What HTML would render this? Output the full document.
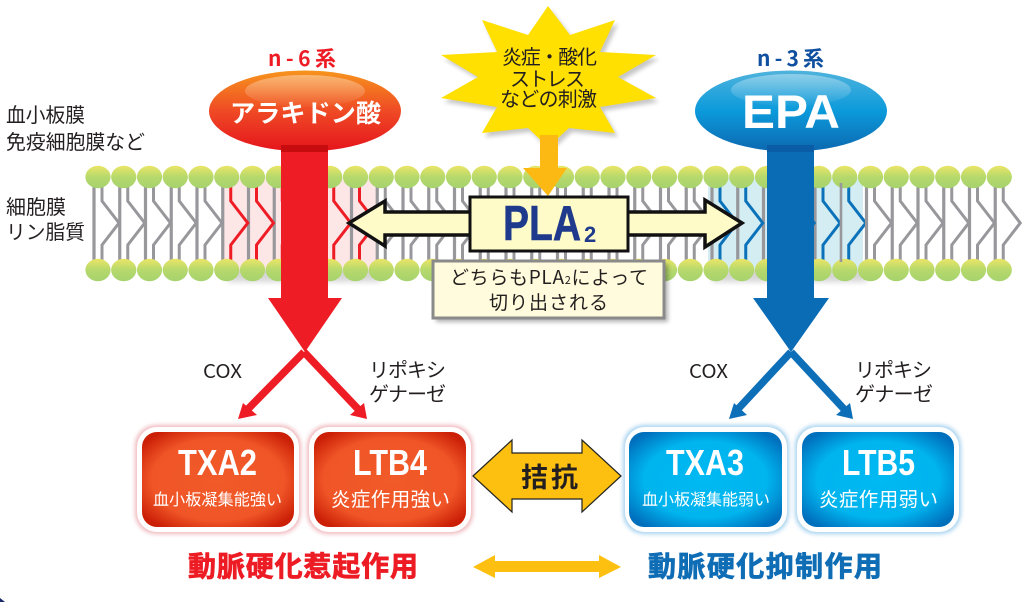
<!DOCTYPE html>
<html lang="ja"><head><meta charset="utf-8"><title>PLA2 diagram</title>
<style>html,body{margin:0;padding:0;background:#fff}svg{display:block}
text{font-family:"Liberation Sans","Noto Sans CJK JP",sans-serif}
.j{font-family:"Noto Sans CJK JP",sans-serif;fill:#231f20;font-size:19px}
.w{fill:#fff;font-family:"Noto Sans CJK JP",sans-serif}
</style></head><body>
<svg xmlns="http://www.w3.org/2000/svg" width="1024" height="602" viewBox="0 0 1024 602">
<defs>
<linearGradient id="h" x1="0" y1="0" x2="0" y2="1"><stop offset="0" stop-color="#ebe566"/><stop offset=".5" stop-color="#b6d96c"/><stop offset="1" stop-color="#a6d26d"/></linearGradient>
<linearGradient id="er" x1="0" y1="0" x2="0" y2="1"><stop offset="0" stop-color="#f7941d"/><stop offset=".5" stop-color="#ef4a25"/><stop offset="1" stop-color="#e5141c"/></linearGradient>
<linearGradient id="eb" x1="0" y1="0" x2="0" y2="1"><stop offset="0" stop-color="#4fb3dc"/><stop offset=".5" stop-color="#0b9adb"/><stop offset="1" stop-color="#0d68b0"/></linearGradient>
<linearGradient id="hl" x1="0" y1="0" x2="0" y2="1"><stop offset="0" stop-color="#fff" stop-opacity=".38"/><stop offset="1" stop-color="#fff" stop-opacity=".02"/></linearGradient>
<radialGradient id="rr" cx=".5" cy=".5" r=".62"><stop offset="0" stop-color="#f15a29"/><stop offset=".7" stop-color="#f05527"/><stop offset="1" stop-color="#cb2007"/></radialGradient>
<radialGradient id="rb" cx=".5" cy=".5" r=".62"><stop offset="0" stop-color="#00b9f2"/><stop offset=".65" stop-color="#00b4ee"/><stop offset="1" stop-color="#0070bd"/></radialGradient>
<filter id="s" x="-20%" y="-20%" width="140%" height="150%"><feGaussianBlur stdDeviation="3"/></filter>
<filter id="g" x="-10%" y="-10%" width="120%" height="120%"><feGaussianBlur stdDeviation="2"/></filter>
<path id="k" d="M4,186V201L21,223L4,245V262" fill="none" stroke-width="3"/>
<g id="l"><path d="M-4,185V263" stroke="#98989c" stroke-width="3.2" fill="none"/><use href="#k" stroke="#98989c"/></g>
<ellipse id="e" cx="0" cy="0" rx="12.600" ry="11.200" fill="url(#h)"/>
</defs>
<rect width="1024" height="602" fill="#fff"/>
<path d="M0,598L5,602H0Z" fill="#1a2a66"/>

<!-- band shadows -->
<rect x="228" y="266" width="152" height="16" fill="#000" opacity=".16" filter="url(#s)"/>
<rect x="712" y="266" width="155" height="16" fill="#000" opacity=".16" filter="url(#s)"/>
<rect x="223" y="178" width="154" height="92" fill="#fde6e6"/>
<rect x="708" y="178" width="155" height="92" fill="#d3edf3"/>

<!-- lipids -->
<g>
<use href="#l" x="98"/><use href="#l" x="123.75"/><use href="#l" x="149.5"/><use href="#l" x="175.25"/><use href="#l" x="201"/>
<path d="M222.750,185V263M248.500,185V263M274.250,185V263M300,185V263M325.750,185V263M351.500,185V263" stroke="#98989c" stroke-width="3.2"/>
<use href="#k" x="226.75" stroke="#ee1c25"/><use href="#k" x="252.5" stroke="#ee1c25"/><use href="#k" x="278.25" stroke="#ee1c25"/><use href="#k" x="304" stroke="#ee1c25"/><use href="#k" x="329.75" stroke="#ee1c25"/><use href="#k" x="355.5" stroke="#ee1c25"/>
<use href="#l" x="381.25"/><use href="#l" x="407"/><use href="#l" x="432.75"/><use href="#l" x="458.5"/><use href="#l" x="484.25"/><use href="#l" x="510"/><use href="#l" x="535.75"/><use href="#l" x="561.5"/><use href="#l" x="587.25"/><use href="#l" x="613"/><use href="#l" x="638.75"/><use href="#l" x="664.5"/><use href="#l" x="690.25"/>
<path d="M712,185V263M737.750,185V263M763.500,185V263M789.250,185V263M815,185V263" stroke="#98989c" stroke-width="3.2"/>
<use href="#k" x="716" stroke="#0b72ba"/><use href="#k" x="741.75" stroke="#0b72ba"/><use href="#k" x="767.5" stroke="#0b72ba"/><use href="#k" x="793.25" stroke="#0b72ba"/><use href="#k" x="819" stroke="#0b72ba"/><use href="#k" x="844.75" stroke="#0b72ba"/>
<use href="#l" x="870.5"/><use href="#l" x="896.25"/><use href="#l" x="922"/><use href="#l" x="947.75"/><use href="#l" x="973.5"/><use href="#l" x="999.25"/>
</g>
<!-- heads -->
<g>
<use href="#e" x="98" y="177"/><use href="#e" x="123.75" y="177"/><use href="#e" x="149.5" y="177"/><use href="#e" x="175.25" y="177"/><use href="#e" x="201" y="177"/><use href="#e" x="226.75" y="177"/><use href="#e" x="252.5" y="177"/><use href="#e" x="278.25" y="177"/><use href="#e" x="304" y="177"/><use href="#e" x="329.75" y="177"/><use href="#e" x="355.5" y="177"/><use href="#e" x="381.25" y="177"/><use href="#e" x="407" y="177"/><use href="#e" x="432.75" y="177"/><use href="#e" x="458.5" y="177"/><use href="#e" x="484.25" y="177"/><use href="#e" x="510" y="177"/><use href="#e" x="535.75" y="177"/><use href="#e" x="561.5" y="177"/><use href="#e" x="587.25" y="177"/><use href="#e" x="613" y="177"/><use href="#e" x="638.75" y="177"/><use href="#e" x="664.5" y="177"/><use href="#e" x="690.25" y="177"/><use href="#e" x="716" y="177"/><use href="#e" x="741.75" y="177"/><use href="#e" x="767.5" y="177"/><use href="#e" x="793.25" y="177"/><use href="#e" x="819" y="177"/><use href="#e" x="844.75" y="177"/><use href="#e" x="870.5" y="177"/><use href="#e" x="896.25" y="177"/><use href="#e" x="922" y="177"/><use href="#e" x="947.75" y="177"/><use href="#e" x="973.5" y="177"/><use href="#e" x="999.25" y="177"/>
<use href="#e" x="98" y="270"/><use href="#e" x="123.75" y="270"/><use href="#e" x="149.5" y="270"/><use href="#e" x="175.25" y="270"/><use href="#e" x="201" y="270"/><use href="#e" x="226.75" y="270"/><use href="#e" x="252.5" y="270"/><use href="#e" x="278.25" y="270"/><use href="#e" x="304" y="270"/><use href="#e" x="329.75" y="270"/><use href="#e" x="355.5" y="270"/><use href="#e" x="381.25" y="270"/><use href="#e" x="407" y="270"/><use href="#e" x="432.75" y="270"/><use href="#e" x="458.5" y="270"/><use href="#e" x="484.25" y="270"/><use href="#e" x="510" y="270"/><use href="#e" x="535.75" y="270"/><use href="#e" x="561.5" y="270"/><use href="#e" x="587.25" y="270"/><use href="#e" x="613" y="270"/><use href="#e" x="638.75" y="270"/><use href="#e" x="664.5" y="270"/><use href="#e" x="690.25" y="270"/><use href="#e" x="716" y="270"/><use href="#e" x="741.75" y="270"/><use href="#e" x="767.5" y="270"/><use href="#e" x="793.25" y="270"/><use href="#e" x="819" y="270"/><use href="#e" x="844.75" y="270"/><use href="#e" x="870.5" y="270"/><use href="#e" x="896.25" y="270"/><use href="#e" x="922" y="270"/><use href="#e" x="947.75" y="270"/><use href="#e" x="973.5" y="270"/><use href="#e" x="999.25" y="270"/>
</g>
<path d="M841,183V262" stroke="#98989c" stroke-width="2.600"/>

<!-- left labels -->
<text class="j" x="6" y="122" style="font-size:20px" textLength="79" lengthAdjust="spacingAndGlyphs">血小板膜</text>
<text class="j" x="6" y="149" style="font-size:20px" textLength="139" lengthAdjust="spacingAndGlyphs">免疫細胞膜など</text>
<text class="j" x="6" y="214" style="font-size:20px" textLength="60" lengthAdjust="spacingAndGlyphs">細胞膜</text>
<text class="j" x="6" y="239" style="font-size:20px" textLength="79" lengthAdjust="spacingAndGlyphs">リン脂質</text>

<!-- big arrows -->
<polygon points="281,145 328,145 328,298 342,298 305,352 268,298 281,298" fill="#ee1c25"/>
<polygon points="767,145 814,145 814,298 829,298 791,352 753,298 767,298" fill="#0b6cb6"/>

<!-- ellipses -->
<ellipse cx="305" cy="111" rx="96" ry="40.500" fill="url(#er)"/>
<ellipse cx="305" cy="91" rx="60" ry="16" fill="url(#hl)"/>
<rect x="281" y="145" width="47" height="7" fill="#c70c0f"/>
<text x="268" y="66" font-size="21" font-weight="700" fill="#ed1c24" style="font-family:'Noto Sans CJK JP',sans-serif" textLength="68" lengthAdjust="spacing">n-6系</text>
<text class="w" x="230" y="122" font-size="25" font-weight="700" textLength="151" lengthAdjust="spacingAndGlyphs">アラキドン酸</text>

<ellipse cx="791" cy="111" rx="96" ry="40.500" fill="url(#eb)"/>
<ellipse cx="791" cy="90" rx="60" ry="16" fill="url(#hl)"/>
<rect x="767" y="145" width="47" height="7" fill="#0a5ca6"/>
<text x="757" y="66" font-size="21" font-weight="700" fill="#0f4f9f" style="font-family:'Noto Sans CJK JP',sans-serif" textLength="67" lengthAdjust="spacing">n-3系</text>
<text x="742" y="128" font-size="47" font-weight="700" fill="#fff" textLength="98" lengthAdjust="spacingAndGlyphs">EPA</text>

<!-- star -->
<polygon points="548,6 570,35 615,20 600,52 656,55 618,77 656,98 600,107 615,133 569,128 548,147 528,128 482,133 497,107 441,98 478,77 441,55 497,52 482,20 528,35" fill="#000" opacity=".22" transform="translate(3,4)" filter="url(#g)"/>
<polygon points="548,6 570,35 615,20 600,52 656,55 618,77 656,98 600,107 615,133 569,128 548,147 528,128 482,133 497,107 441,98 478,77 441,55 497,52 482,20 528,35" fill="#ffe000"/>
<polygon points="540,135 558,135 558,168 567,168 548,196 523,168 540,168" fill="#fdb913"/>
<text class="j" x="502" y="64" style="font-size:20px" textLength="95" lengthAdjust="spacing">炎症・酸化</text>
<text class="j" x="510" y="86" style="font-size:20px" textLength="75" lengthAdjust="spacing">ストレス</text>
<text class="j" x="500" y="106" style="font-size:20px" textLength="97" lengthAdjust="spacing">などの刺激</text>

<!-- PLA2 arrows and box -->
<polygon points="349,223 385,201 385,212 475,212 475,235 385,235 385,246" fill="#fffbc8" stroke="#111" stroke-width="3.500"/>
<polygon points="742,223 705,200 705,212 620,212 620,235 705,235 705,247" fill="#fffbc8" stroke="#111" stroke-width="3.500"/>
<rect x="470" y="197" width="158" height="54" fill="#fffbc8" stroke="#111" stroke-width="3"/>
<text x="503" y="240" font-size="49" font-weight="700" fill="#1f3a8c" stroke="#1f3a8c" stroke-width=".6" textLength="78" lengthAdjust="spacingAndGlyphs">PLA</text>
<text x="584" y="242" font-size="22" font-weight="700" fill="#1f3a8c">2</text>

<!-- note -->
<rect x="436" y="264" width="232" height="58" fill="#000" opacity=".3" filter="url(#g)"/>
<rect x="433" y="261" width="231" height="57" fill="#fffbdc" stroke="#8a8a8a" stroke-width="3"/>
<text class="j" x="450" y="284" textLength="198" lengthAdjust="spacing">どちらも<tspan>PLA</tspan><tspan font-size="11">2</tspan>によって</text>
<text class="j" x="489" y="309" textLength="119" lengthAdjust="spacing">切り出される</text>

<!-- branch arrows -->
<path d="M304,352L248,409" stroke="#ee1c25" stroke-width="7.500" fill="none"/>
<polygon points="238,419 243,403 257,415" fill="#ee1c25"/>
<path d="M304,352L358,409" stroke="#ee1c25" stroke-width="7.500" fill="none"/>
<polygon points="367,419 364,403 350,415" fill="#ee1c25"/>
<path d="M791,352L738,409" stroke="#0d6fb8" stroke-width="7.500" fill="none"/>
<polygon points="729,419 734,403 747,415" fill="#0d6fb8"/>
<path d="M791,352L844,409" stroke="#0d6fb8" stroke-width="7.500" fill="none"/>
<polygon points="853,419 850,403 836,415" fill="#0d6fb8"/>

<text class="j" x="203" y="378" style="font-size:19px" textLength="39" lengthAdjust="spacingAndGlyphs">COX</text>
<text class="j" x="369" y="377" style="font-size:20px" textLength="77" lengthAdjust="spacing">リポキシ</text>
<text class="j" x="369" y="401" style="font-size:20px" textLength="77" lengthAdjust="spacing">ゲナーゼ</text>
<text class="j" x="689" y="378" style="font-size:19px" textLength="39" lengthAdjust="spacingAndGlyphs">COX</text>
<text class="j" x="855" y="377" style="font-size:20px" textLength="77" lengthAdjust="spacing">リポキシ</text>
<text class="j" x="855" y="401" style="font-size:20px" textLength="78" lengthAdjust="spacing">ゲナーゼ</text>

<!-- result boxes -->
<rect x="135" y="425" width="166" height="109" rx="21" fill="#e58a93" opacity=".6" filter="url(#g)"/>
<rect x="307" y="425" width="166" height="109" rx="21" fill="#e58a93" opacity=".6" filter="url(#g)"/>
<rect x="623" y="425" width="166" height="109" rx="21" fill="#6cb4e4" opacity=".6" filter="url(#g)"/>
<rect x="795" y="425" width="166" height="109" rx="21" fill="#6cb4e4" opacity=".6" filter="url(#g)"/>
<rect x="137" y="427" width="162" height="105" rx="20" fill="#fff"/>
<rect x="309" y="427" width="162" height="105" rx="20" fill="#fff"/>
<rect x="625" y="427" width="162" height="105" rx="20" fill="#fff"/>
<rect x="797" y="427" width="162" height="105" rx="20" fill="#fff"/>
<rect x="142" y="432" width="152" height="95" rx="15" fill="url(#rr)"/>
<rect x="314" y="432" width="152" height="95" rx="15" fill="url(#rr)"/>
<rect x="629" y="432" width="153" height="95" rx="15" fill="url(#rb)"/>
<rect x="802" y="432" width="152" height="95" rx="15" fill="url(#rb)"/>
<text x="178" y="475" font-size="36" font-weight="700" fill="#fff" textLength="79" lengthAdjust="spacingAndGlyphs">TXA2</text>
<text x="353" y="475" font-size="36" font-weight="700" fill="#fff" textLength="74" lengthAdjust="spacingAndGlyphs">LTB4</text>
<text x="666" y="475" font-size="36" font-weight="700" fill="#fff" textLength="78" lengthAdjust="spacingAndGlyphs">TXA3</text>
<text x="842" y="475" font-size="36" font-weight="700" fill="#fff" textLength="73" lengthAdjust="spacingAndGlyphs">LTB5</text>
<text class="w" x="153" y="505" font-size="16" textLength="129" lengthAdjust="spacing">血小板凝集能強い</text>
<text class="w" x="331" y="506" font-size="19.500" textLength="119" lengthAdjust="spacing">炎症作用強い</text>
<text class="w" x="642" y="505" font-size="16" textLength="128" lengthAdjust="spacing">血小板凝集能弱い</text>
<text class="w" x="819" y="506" font-size="19.500" textLength="119" lengthAdjust="spacing">炎症作用弱い</text>

<!-- antagonism -->
<polygon points="473,476 512,440 512,453 582,453 582,440 621,476 582,512 582,499 512,499 512,512" fill="#fdc010" stroke="#222" stroke-width="1.200"/>
<text x="521" y="487" font-size="27" font-weight="700" fill="#231f20" style="font-family:'Noto Sans CJK JP',sans-serif;" textLength="57" lengthAdjust="spacing">拮抗</text>
<polygon points="473,567 495,555 495,561 599,561 599,555 621,567 599,578 599,572 495,572 495,578" fill="#fdc010"/>

<!-- bottom -->
<text x="188" y="576" font-size="28" font-weight="700" fill="#ed1c24" stroke="#ed1c24" stroke-width=".7" style="font-family:'Noto Sans CJK JP',sans-serif" textLength="230" lengthAdjust="spacing">動脈硬化惹起作用</text>
<text x="648" y="576" font-size="28" font-weight="700" fill="#0f6db5" stroke="#0f6db5" stroke-width=".7" style="font-family:'Noto Sans CJK JP',sans-serif" textLength="234" lengthAdjust="spacing">動脈硬化抑制作用</text>
</svg>
</body></html>
